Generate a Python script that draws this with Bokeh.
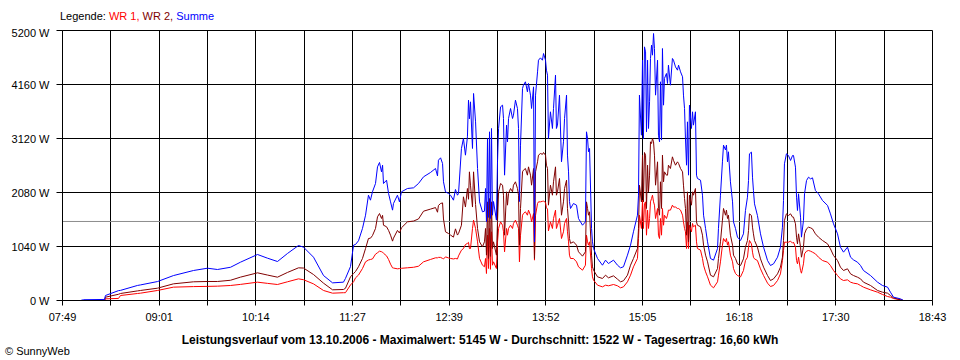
from bokeh.plotting import figure
from bokeh.models import Range1d, FixedTicker, Span, Div
from bokeh.layouts import column
from bokeh.embed import file_html
from bokeh.resources import INLINE
import numpy as np

# ---- data -------------------------------------------------------------
T_START = 469      # 07:49 in minutes since midnight
T_END = 1123       # 18:43
X_LABELS = ["07:49", "09:01", "10:14", "11:27", "12:39", "13:52", "15:05", "16:18", "17:30", "18:43"]
Y_TICKS = [0, 1040, 2080, 3120, 4160, 5200]
AVERAGE = 1522     # Durchschnitt (W)

# sample times, minutes since midnight
T_MIN = [
    482.5, 484.8, 500.6, 501.3, 511.1, 512.6, 525.4, 527.6, 540.4, 552.4,
    567.5, 578.0, 585.5, 595.3, 602.8, 615.6, 623.1, 630.6, 638.1, 646.4,
    650.2, 657.7, 665.2, 672.0, 680.2, 681.7, 685.5, 687.8, 689.3, 691.5,
    694.5, 696.8, 699.0, 700.5, 702.0, 704.3, 705.8, 707.3, 708.8, 709.6,
    710.3, 712.6, 714.1, 715.6, 717.1, 717.8, 720.8, 722.3, 723.8, 728.3,
    732.9, 736.6, 740.4, 745.6, 749.4, 750.9, 751.6, 753.2, 754.7, 755.4,
    756.9, 759.2, 760.7, 762.9, 764.4, 765.9, 766.7, 768.9, 770.4, 771.9,
    773.4, 774.2, 774.9, 775.7, 777.2, 778.0, 779.5, 781.0, 782.5, 784.7,
    786.2, 787.0, 787.7, 788.5, 789.2, 790.0, 790.7, 791.5, 792.2, 793.0,
    795.2, 796.0, 796.8, 798.3, 799.8, 800.5, 801.3, 802.8, 803.5, 804.3,
    805.8, 807.3, 808.0, 809.5, 811.0, 811.8, 812.5, 813.3, 814.8, 815.5,
    817.0, 818.5, 819.3, 820.8, 821.6, 823.1, 823.8, 824.6, 826.1, 826.8,
    828.3, 829.8, 830.6, 832.1, 832.8, 833.6, 834.3, 835.8, 837.3, 838.1,
    839.6, 840.3, 841.1, 842.6, 844.1, 845.6, 846.4, 847.9, 848.6, 849.4,
    850.1, 850.9, 853.1, 855.4, 856.9, 859.9, 862.1, 862.9, 863.7, 864.4,
    865.2, 866.7, 867.4, 868.2, 871.2, 874.9, 877.2, 879.4, 883.2, 886.2,
    888.5, 890.7, 893.7, 896.0, 898.2, 901.2, 902.0, 902.7, 904.2, 905.0,
    905.7, 906.5, 907.3, 908.0, 908.8, 909.5, 910.3, 911.0, 911.8, 912.5,
    913.3, 914.0, 914.8, 916.3, 917.0, 917.8, 918.5, 919.3, 920.0, 920.8,
    921.5, 923.0, 923.8, 924.5, 926.0, 927.5, 928.3, 929.8, 931.3, 932.1,
    933.6, 935.1, 935.8, 936.6, 937.3, 938.1, 938.8, 939.6, 940.3, 941.8,
    942.6, 943.3, 944.8, 945.6, 946.3, 948.6, 950.1, 950.9, 952.4, 953.9,
    956.1, 958.4, 961.4, 962.1, 963.6, 965.1, 965.9, 967.4, 968.1, 968.9,
    969.6, 971.1, 972.7, 973.4, 974.9, 976.4, 978.7, 980.9, 982.4, 983.9,
    984.7, 985.4, 986.9, 987.7, 988.4, 989.2, 991.4, 993.7, 996.0, 999.0,
    1001.2, 1003.5, 1006.5, 1008.7, 1010.2, 1011.0, 1011.7, 1013.2, 1014.7, 1016.3,
    1017.8, 1018.5, 1020.0, 1020.8, 1021.5, 1022.3, 1023.8, 1024.5, 1026.0, 1026.8,
    1028.3, 1029.8, 1031.3, 1032.8, 1035.0, 1037.3, 1040.3, 1044.1, 1046.3, 1048.6,
    1051.6, 1053.8, 1056.1, 1059.1, 1061.4, 1063.6, 1066.6, 1068.9, 1071.1, 1076.4,
    1081.7, 1085.4, 1089.2, 1091.4, 1093.7, 1098.9, 1101.2,
]

SUMME = [
    0, 15, 20, 96, 190, 195, 290, 300, 365, 480,
    578, 622, 597, 640, 738, 886, 815, 751, 905, 1059,
    1027, 834, 481, 340, 353, 424, 654, 1066, 1080, 1150,
    1387, 1643, 2028, 1932, 2093, 2253, 2574, 2658, 2478, 2606,
    2253, 2317, 2061, 1900, 1740, 1868, 2028, 1900, 2093, 2157,
    2170, 2253, 2382, 2465, 2542, 2400, 2702, 2748, 2638, 2286,
    2093, 2061, 2028, 1932, 2138, 2028, 2061, 2928, 3120, 2799,
    3152, 3858, 3500, 3826, 2928, 3987, 3441, 2542, 1900, 1708,
    1720, 2157, 1521, 3120, 1600, 3249, 1580, 3313, 1643, 1906,
    1547, 2671, 3313, 3730, 3762, 3505, 2414, 3377, 3056, 3505,
    3698, 3505, 3569, 3858, 3698, 3313, 1906, 2992, 4083, 4147,
    4212, 4019, 4180, 3955, 3698, 4115, 1130, 3955, 4404, 4628,
    4673, 4628, 4757, 4628, 4435, 4340, 3120, 3634, 3313, 3698,
    4340, 3313, 3377, 3955, 2671, 3056, 3505, 3955, 2800, 2478,
    1906, 1772, 1868, 1836, 1579, 1450, 1515, 3249, 3120, 2864,
    2928, 1387, 1130, 1001, 809, 680, 777, 712, 777, 680,
    629, 650, 873, 1066, 1323, 1643, 2028, 3955, 3184, 4628,
    3120, 4885, 4789, 3250, 4628, 3313, 3827, 4661, 4918, 4725,
    5142, 4853, 3955, 4628, 3184, 3056, 4212, 3090, 4853, 3762,
    4276, 4372, 4180, 4532, 4147, 4661, 4628, 4500, 4436, 4532,
    4404, 4308, 3955, 3698, 3120, 2606, 3441, 2414, 3762, 3313,
    3634, 3377, 3634, 2414, 2350, 2317, 2028, 1643, 1387, 1130,
    809, 777, 1001, 1387, 2028, 2671, 2992, 2900, 2992, 2671,
    2864, 2286, 1900, 1515, 1387, 1220, 1156, 1284, 1733, 1990,
    2311, 2825, 2857, 2375, 2118, 1862, 1637, 1284, 1027, 770,
    674, 706, 834, 1027, 1412, 1926, 2633, 2825, 2793, 2697,
    2793, 2793, 2568, 1990, 1733, 2055, 1605, 1220, 1541, 2055,
    2311, 2375, 2343, 2362, 2118, 2055, 1926, 1830, 1669, 1477,
    1284, 1027, 931, 1027, 834, 783, 738, 674, 578, 481,
    353, 289, 257, 160, 64, 32, 0,
]

WR2 = [
    0, 0, 0, 64, 120, 135, 185, 193, 237, 321,
    360, 366, 366, 390, 450, 533, 490, 449, 540, 629,
    625, 500, 334, 206, 212, 235, 456, 520, 560, 650,
    809, 1001, 1194, 1200, 1250, 1387, 1611, 1675, 1580, 1640,
    1450, 1420, 1350, 1258, 1143, 1200, 1350, 1300, 1400, 1515,
    1530, 1570, 1720, 1760, 1790, 1700, 1830, 1868, 1880, 1570,
    1323, 1290, 1260, 1220, 1380, 1260, 1290, 1450, 1997, 1800,
    2157, 1950, 2478, 2221, 1800, 2478, 1850, 1387, 1130, 1034,
    1130, 1387, 873, 1900, 809, 1964, 850, 1900, 1001, 1130,
    873, 1515, 2093, 2253, 2221, 2028, 1258, 2093, 1836, 2061,
    2157, 2093, 2221, 2286, 2157, 2028, 1066, 1772, 2478, 2510,
    2542, 2414, 2574, 2414, 2221, 2542, 809, 2478, 2671, 2799,
    2831, 2815, 2850, 2799, 2606, 2542, 1836, 2221, 2028, 2286,
    2574, 2028, 2093, 2350, 1643, 1900, 2157, 2317, 1772, 1515,
    1194, 1101, 1130, 1066, 938, 854, 938, 1900, 1772, 1643,
    1708, 873, 648, 584, 456, 424, 488, 437, 475, 411,
    360, 380, 488, 680, 809, 1001, 1387, 2221, 1900, 2799,
    1900, 2850, 2799, 1772, 2606, 2093, 2414, 3056, 3024, 3120,
    3056, 2799, 2221, 2671, 1772, 1643, 2286, 1772, 2799, 2286,
    2478, 2414, 2414, 2606, 2542, 2767, 2700, 2606, 2671, 2640,
    2542, 2478, 2221, 1964, 1772, 1258, 2093, 1130, 2028, 1836,
    2093, 2028, 2157, 1515, 1450, 1420, 1258, 1066, 873, 745,
    488, 456, 616, 809, 1130, 1547, 1772, 1643, 1740, 1579,
    1643, 1258, 1066, 873, 809, 706, 674, 802, 1027, 1156,
    1348, 1669, 1637, 1412, 1284, 1156, 1027, 802, 642, 481,
    385, 417, 513, 642, 834, 1156, 1541, 1669, 1637, 1669,
    1605, 1605, 1477, 1220, 1091, 1284, 1027, 834, 1027, 1284,
    1380, 1412, 1400, 1380, 1284, 1220, 1156, 1091, 995, 867,
    770, 642, 578, 610, 513, 481, 449, 417, 353, 289,
    193, 160, 141, 96, 51, 13, 0,
]

WR1 = [
    0, 0, 0, 32, 40, 96, 135, 141, 193, 257,
    268, 272, 276, 289, 310, 353, 330, 308, 360, 417,
    400, 320, 193, 141, 150, 150, 300, 360, 437, 490,
    616, 745, 780, 790, 800, 892, 920, 950, 940, 930,
    910, 860, 790, 700, 629, 625, 610, 615, 620, 630,
    640, 660, 745, 790, 822, 822, 830, 830, 810, 800,
    840, 820, 810, 800, 810, 800, 860, 969, 1000, 1078,
    1100, 1120, 1000, 1001, 1387, 1547, 1387, 1130, 809, 680,
    650, 809, 520, 1258, 616, 1387, 600, 1323, 680, 745,
    616, 1130, 1387, 1515, 1450, 1323, 938, 1387, 1258, 1387,
    1450, 1387, 1483, 1547, 1450, 1387, 745, 1258, 1643, 1675,
    1708, 1643, 1740, 1643, 1515, 1675, 777, 1643, 1868, 1900,
    1900, 1910, 1913, 1890, 1785, 1760, 1340, 1515, 1387, 1580,
    1740, 1387, 1450, 1580, 1194, 1323, 1483, 1580, 1323, 1130,
    873, 809, 809, 745, 648, 584, 680, 1258, 1130, 1066,
    1130, 616, 456, 392, 295, 263, 295, 283, 308, 283,
    244, 263, 360, 488, 648, 809, 1194, 1643, 1387, 1932,
    1387, 1868, 1900, 1258, 1740, 1387, 1579, 1900, 1964, 2028,
    1900, 1836, 1579, 1772, 1258, 1194, 1579, 1258, 1772, 1450,
    1643, 1579, 1643, 1740, 1740, 1836, 1800, 1800, 1772, 1772,
    1740, 1643, 1515, 1387, 1323, 1001, 1515, 1001, 1450, 1323,
    1483, 1420, 1450, 1130, 1001, 970, 809, 680, 552, 456,
    295, 244, 360, 488, 745, 1066, 1194, 1130, 1194, 1066,
    1130, 873, 745, 616, 520, 481, 455, 578, 770, 834,
    1027, 1156, 1091, 931, 834, 802, 770, 610, 481, 334,
    270, 289, 385, 513, 770, 963, 1123, 1123, 1123, 1143,
    1104, 1123, 1027, 770, 706, 834, 578, 526, 706, 899,
    950, 963, 950, 931, 899, 834, 770, 738, 674, 578,
    481, 417, 385, 398, 353, 334, 321, 289, 257, 205,
    160, 116, 77, 64, 38, 13, 0,
]

LEGEND = [("WR 1", "#ff0000"), ("WR 2", "#800000"), ("Summe", "#0000ff")]
TITLE = ("Leistungsverlauf vom 13.10.2006 - Maximalwert: 5145 W - "
         "Durchschnitt: 1522 W - Tagesertrag: 16,60 kWh")
CREDIT = "\u00a9 SunnyWeb"

# ---- figure -----------------------------------------------------------
FONT = "Liberation Sans"
CSS_FONT = "font-family:'Liberation Sans',Arial,sans-serif;font-size:11px;line-height:13px;white-space:nowrap;"

p = figure(frame_width=870, frame_height=270, output_backend="svg", toolbar_location=None,
           x_range=Range1d(T_START, T_END), y_range=Range1d(0, Y_TICKS[-1]),
           min_border_left=62, min_border_right=18, min_border_top=4,
           min_border_bottom=22, margin=(0, 0, 0, 0))
p.background_fill_color = "white"
p.border_fill_color = "white"
p.outline_line_color = "black"
p.outline_line_width = 1

x_ticks = list(np.linspace(T_START, T_END, 2 * (len(X_LABELS) - 1) + 1))
x_overrides = {t: (X_LABELS[i // 2] if i % 2 == 0 else "") for i, t in enumerate(x_ticks)}
p.xaxis.ticker = FixedTicker(ticks=x_ticks, minor_ticks=[])
p.xaxis.major_label_overrides = x_overrides
p.yaxis.ticker = FixedTicker(ticks=Y_TICKS, minor_ticks=[])
p.yaxis.major_label_overrides = {v: f"{v} W" for v in Y_TICKS}

p.xgrid.ticker = FixedTicker(ticks=x_ticks, minor_ticks=[])
p.ygrid.ticker = FixedTicker(ticks=Y_TICKS, minor_ticks=[])
for g in (p.xgrid, p.ygrid):
    g.grid_line_color = "black"
    g.grid_line_alpha = 1.0
    g.grid_line_width = 1

p.axis.axis_line_color = "black"
p.axis.major_tick_line_color = "black"
p.axis.minor_tick_line_color = None
p.axis.major_tick_in = 0
p.xaxis.major_tick_out = 5
p.yaxis.major_tick_out = 6
p.xaxis.major_label_standoff = 5
p.yaxis.major_label_standoff = 7
p.axis.major_label_text_font = FONT
p.axis.major_label_text_font_size = "11px"
p.axis.major_label_text_color = "black"

p.add_layout(Span(location=AVERAGE, dimension="width", line_color="#8c8c8c",
                  line_width=1, level="underlay"))

p.line(T_MIN, WR1, line_color=LEGEND[0][1], line_width=1)
p.line(T_MIN, WR2, line_color=LEGEND[1][1], line_width=1)
p.line(T_MIN, SUMME, line_color=LEGEND[2][1], line_width=1)

# ---- texts ------------------------------------------------------------
legend_html = (f'<div style="position:relative;width:960px;height:26px;{CSS_FONT}">'
               f'<div style="position:absolute;left:60px;top:10px;color:#000">Legende: '
               f'<span style="color:{LEGEND[0][1]}">{LEGEND[0][0]},</span> '
               f'<span style="color:{LEGEND[1][1]}">{LEGEND[1][0]},</span> '
               f'<span style="color:{LEGEND[2][1]}">{LEGEND[2][0]}</span></div></div>')
top = Div(text=legend_html, width=960, height=26, margin=(0, 0, 0, 0))

bottom_html = (f'<div style="position:relative;width:960px;height:38px;{CSS_FONT}color:#000">'
               f'<div style="position:absolute;left:0;top:8px;width:960px;text-align:center;'
               f'font-weight:bold;font-size:12px;line-height:14px">{TITLE}</div>'
               f'<div style="position:absolute;left:5px;top:20px">{CREDIT}</div></div>')
bottom = Div(text=bottom_html, width=960, height=38, margin=(0, 0, 0, 0))

layout = column(top, p, bottom, spacing=0, margin=(0, 0, 0, 0))

open("out.html", "w").write(file_html(layout, INLINE))
